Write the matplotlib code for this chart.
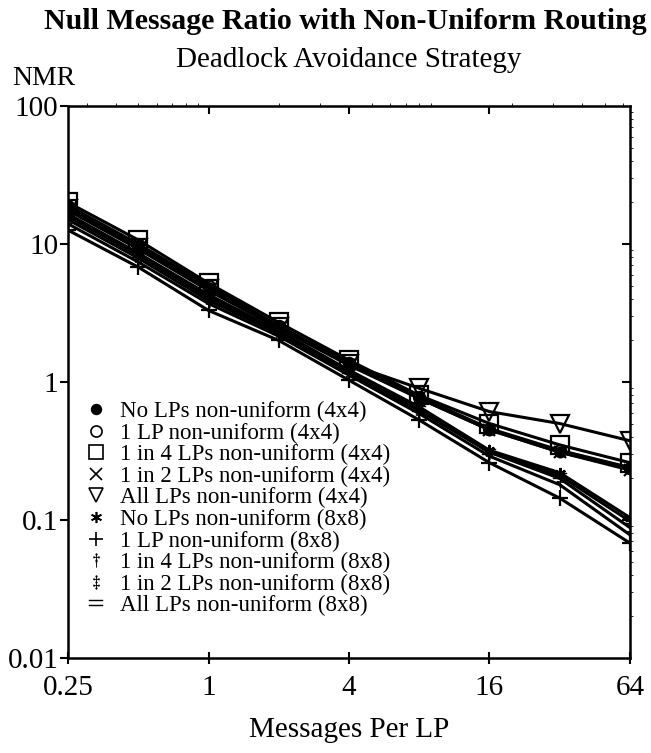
import matplotlib
matplotlib.use("Agg")
import matplotlib.pyplot as plt
from matplotlib.lines import Line2D

# Messages per LP (x) and null message ratio (y)
msgs = [0.25, 0.5, 1, 2, 4, 8, 16, 32, 64]

nmr_none_4 = [18.5, 9.6, 4.8, 2.5, 1.35, 0.76, 0.45, 0.31, 0.235]
nmr_one_4 = [19.0, 10.0, 5.0, 2.55, 1.38, 0.78, 0.46, 0.32, 0.24]
nmr_quarter_4 = [20.0, 10.7, 5.2, 2.7, 1.44, 0.80, 0.50, 0.35, 0.26]
nmr_half_4 = [17.5, 9.2, 4.6, 2.45, 1.32, 0.76, 0.45, 0.31, 0.23]
nmr_all_4 = [18.0, 9.4, 4.7, 2.5, 1.35, 0.90, 0.61, 0.50, 0.375]
nmr_none_8 = [16.5, 8.6, 4.3, 2.35, 1.22, 0.66, 0.32, 0.22, 0.104]
nmr_one_8 = [12.6, 6.8, 3.3, 2.0, 1.03, 0.53, 0.26, 0.144, 0.068]
nmr_quarter_8 = [14.0, 7.4, 3.7, 2.15, 1.12, 0.59, 0.29, 0.18, 0.078]
nmr_half_8 = [15.0, 7.9, 3.9, 2.25, 1.16, 0.62, 0.31, 0.20, 0.088]
nmr_all_8 = [15.8, 8.3, 4.1, 2.3, 1.2, 0.64, 0.31, 0.21, 0.098]

labels = ["No LPs non-uniform (4x4)",
          "1 LP non-uniform (4x4)",
          "1 in 4 LPs non-uniform (4x4)",
          "1 in 2 LPs non-uniform (4x4)",
          "All LPs non-uniform (4x4)",
          "No LPs non-uniform (8x8)",
          "1 LP non-uniform (8x8)",
          "1 in 4 LPs non-uniform (8x8)",
          "1 in 2 LPs non-uniform (8x8)",
          "All LPs non-uniform (8x8)"]

series = [nmr_none_4, nmr_one_4, nmr_quarter_4, nmr_half_4, nmr_all_4,
          nmr_none_8, nmr_one_8, nmr_quarter_8, nmr_half_8, nmr_all_8]

xticks = [0.25, 1, 4, 16, 64]
xticklabels = ["0.25", "1", "4", "16", "64"]
yticks = [0.01, 0.1, 1, 10, 100]
yticklabels = ["0.01", "0.1", "1", "10", "100"]

plt.rcParams['font.family'] = ['Liberation Serif', 'DejaVu Serif']
plt.rcParams['mathtext.fontset'] = 'stix'

# marker style for each series: (marker, size, edge width, filled)
styles = [('o', 7, 1.6, True), ('o', 8, 1.6, False), ('s', 13, 1.6, False),
          ('x', 8, 1.6, False), ('v', 13, 1.6, False), ((6, 2, 0), 8, 1.6, False),
          ('+', 11, 1.6, False), (r'$\dagger$', 11, 0.3, True),
          (r'$\ddagger$', 11, 0.3, True), (r'$=$', 10, 0.3, True)]

fig = plt.figure(figsize=(6.51, 7.53), dpi=100)
ax = fig.add_axes([0.1045, 0.1262, 0.8632, 0.733])

for ys, (m, ms, mew, filled) in zip(series, styles):
    ax.plot(msgs, ys, color='black', lw=2.2, marker=m, markersize=ms,
            markerfacecolor='black' if filled else 'none',
            markeredgecolor='black', markeredgewidth=mew)

ax.set_xscale('log', base=2)
ax.set_yscale('log')
ax.set_xlim(0.25, 64)
ax.set_ylim(0.01, 100)
ax.minorticks_off()
ax.set_xticks(xticks)
ax.set_xticklabels(xticklabels, fontsize=21)
ax.set_yticks(yticks)
ax.set_yticklabels(yticklabels, fontsize=21)
ax.tick_params(axis='y', direction='out', length=6, width=1.5, pad=1)
ax.tick_params(axis='x', direction='inout', length=8, width=1.5, pad=8)

for s in ax.spines.values():
    s.set_linewidth(1.8)

top = ax.secondary_xaxis('top')
top.set_xticks(xticks[1:-1])
top.tick_params(direction='in', length=6, width=1.5, labeltop=False)
right = ax.secondary_yaxis('right')
right.set_yticks(yticks[1:-1])
right.tick_params(direction='in', length=6, width=1.5, labelright=False)

ax.set_xlabel("Messages Per LP", fontsize=21, labelpad=12)
fig.text(0.018, 0.896, "NMR", fontsize=20, ha='left', va='center')
fig.text(0.53, 0.971, "Null Message Ratio with Non-Uniform Routing",
         fontsize=21.5, fontweight='bold', ha='center', va='center')
fig.text(0.535, 0.92, "Deadlock Avoidance Strategy", fontsize=21,
         ha='center', va='center')

handles = [Line2D([], [], linestyle='none', marker=m,
                  markersize=min(ms, 10), markerfacecolor='black' if filled else 'none',
                  markeredgecolor='black', markeredgewidth=min(mew, 1.2))
           for (m, ms, mew, filled) in styles]
ax.legend(handles, labels, loc='upper left', bbox_to_anchor=(0.0, 0.495),
          frameon=False, fontsize=16.5, handlelength=1, handletextpad=0.55,
          labelspacing=0.02, borderaxespad=0.3)

plt.savefig('out.png', dpi=100)
